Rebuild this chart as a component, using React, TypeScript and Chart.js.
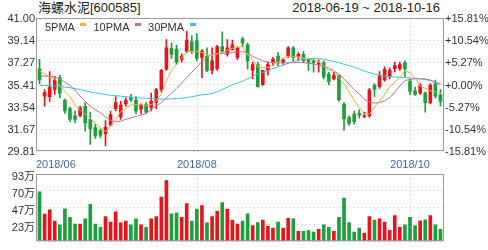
import React, { useEffect, useRef } from 'react';
import { Chart, registerables } from 'chart.js';

Chart.register(...registerables);

const title = '海螺水泥[600585]';
const dateRange = '2018-06-19 ~ 2018-10-16';

const dates = [
  '2018-06-19','2018-06-20','2018-06-21','2018-06-22','2018-06-25','2018-06-26','2018-06-27','2018-06-28','2018-06-29',
  '2018-07-02','2018-07-03','2018-07-04','2018-07-05','2018-07-06','2018-07-09','2018-07-10','2018-07-11','2018-07-12','2018-07-13',
  '2018-07-16','2018-07-17','2018-07-18','2018-07-19','2018-07-20','2018-07-23','2018-07-24','2018-07-25','2018-07-26','2018-07-27',
  '2018-07-30','2018-07-31',
  '2018-08-01','2018-08-02','2018-08-03','2018-08-06','2018-08-07','2018-08-08','2018-08-09','2018-08-10','2018-08-13','2018-08-14',
  '2018-08-15','2018-08-16','2018-08-17','2018-08-20','2018-08-21','2018-08-22','2018-08-23','2018-08-24','2018-08-27','2018-08-28',
  '2018-08-29','2018-08-30','2018-08-31',
  '2018-09-03','2018-09-04','2018-09-05','2018-09-06','2018-09-07','2018-09-10','2018-09-11','2018-09-12','2018-09-13','2018-09-14',
  '2018-09-17','2018-09-18','2018-09-19','2018-09-20','2018-09-21','2018-09-25','2018-09-26','2018-09-27','2018-09-28',
  '2018-10-08','2018-10-09','2018-10-10','2018-10-11','2018-10-12','2018-10-15','2018-10-16'
];

const opens = [
  36.73,34.45,34.4,35.0,36.0,34.1,33.4,32.8,32.8,33.6,
  32.5,31.8,31.55,31.3,32.0,33.4,32.7,33.8,34.35,34.1,
  33.35,33.75,33.5,33.9,35.0,36.7,38.45,38.4,37.5,38.2,
  39.0,39.1,37.7,37.8,36.6,36.75,38.6,37.95,38.35,37.7,
  39.25,38.75,36.6,37.1,35.4,36.6,37.27,37.8,37.3,37.8,
  38.5,37.8,37.95,37.55,37.4,37.1,37.25,36.3,35.9,36.2,
  33.75,32.65,32.95,33.0,32.7,32.8,35.35,35.25,35.8,36.1,
  36.75,36.75,37.25,35.7,34.9,34.7,34.7,33.9,35.5,34.55
];
const closes = [
  35.8,34.75,35.2,35.8,34.7,33.2,32.5,32.5,33.45,32.2,
  31.7,31.1,31.15,31.85,32.9,33.9,33.7,34.1,34.15,33.2,
  33.7,33.1,34.0,35.0,36.6,38.5,37.95,37.3,37.8,39.15,
  38.2,37.6,38.2,36.6,37.4,38.6,38.2,38.5,38.75,38.5,
  38.9,37.4,37.1,35.25,36.6,37.1,37.54,37.3,37.5,38.5,
  37.7,37.95,37.4,37.3,37.25,37.25,36.05,35.65,36.2,34.15,
  32.55,32.15,32.3,32.85,32.8,34.95,35.0,36.15,36.7,36.6,
  37.0,37.1,36.75,34.85,34.6,35.35,33.9,35.35,34.45,34.0
];
const highs = [
  37.54,35.0,36.5,36.1,36.2,34.2,33.5,33.2,33.6,33.9,
  33.1,32.1,31.7,32.4,33.2,34.4,34.0,34.3,34.6,34.4,
  33.8,33.9,34.7,35.1,36.7,39.2,38.9,38.7,38.0,39.9,
  39.5,39.7,38.35,38.5,38.5,38.7,39.85,39.2,39.15,38.6,
  39.4,38.9,37.3,37.3,36.6,37.3,37.7,38.1,37.6,38.6,
  38.6,38.1,38.2,37.6,37.55,37.5,37.4,36.45,36.45,36.2,
  33.9,32.8,33.2,33.3,33.1,35.1,35.5,36.5,36.9,36.8,
  37.3,37.3,37.4,35.9,35.2,35.5,34.8,35.5,35.8,35.0
];
const lows = [
  35.5,33.6,34.0,34.6,34.3,33.0,32.3,32.2,32.7,31.5,
  30.4,30.9,30.95,30.3,31.95,33.2,32.5,33.6,34.0,32.95,
  32.95,32.95,33.2,33.4,34.8,36.6,37.6,37.1,37.3,38.1,
  38.0,37.4,36.0,36.5,36.3,36.6,38.1,37.8,38.3,37.5,
  38.6,36.7,35.9,35.2,35.35,36.2,37.0,37.0,37.1,37.7,
  37.4,37.4,37.25,36.6,36.45,36.45,35.9,35.4,35.8,34.0,
  31.6,32.0,32.1,32.6,32.65,32.65,34.4,35.1,35.7,35.9,
  36.5,36.6,36.05,34.6,34.5,34.6,33.1,33.8,34.3,33.6
];
const volumes = [
  68.4,37.8,43.7,28,22.9,45,33.1,23.8,23.8,31,
  51,23.8,19.5,34.4,26.8,40.8,25.5,28,22.9,31,
  22.9,19.5,31,34.4,61.2,84,38.2,39.5,33.1,52.2,
  28,44.6,49.3,25.5,34.4,41.6,53.5,44.6,29.3,23.8,
  28,38.2,21.7,25.9,29.3,20.8,18.3,26.8,18.3,32,
  31,14,14,14.8,12.7,16.6,22.9,19.5,14,33.1,
  59.9,25.9,12.7,18.3,11.5,34.4,29.3,31,26.8,15.3,
  35.7,19.5,22.9,33.1,21.7,28.4,29.7,35.7,22.9,16.6
];
const ma5 = [
  36.55,36.3,36.05,35.9,35.3,34.85,34.4,33.7,33.3,32.95,
  32.6,32.15,31.8,31.45,31.95,32.5,33.15,33.4,33.7,33.75,
  33.7,33.7,33.72,34.0,34.6,35.75,36.6,37.1,37.65,38.15,
  38.2,38.2,38.1,37.9,37.85,38.0,38.1,38.3,38.45,38.55,
  38.6,37.9,37.5,36.9,36.83,36.83,37.05,37.3,37.6,37.8,
  37.75,37.7,37.64,37.55,37.5,37.3,37.0,36.6,36.56,36.0,
  35.45,34.8,34.1,33.5,32.91,32.95,33.5,34.0,34.6,35.2,
  35.6,36.0,36.6,36.4,36.0,35.3,35.1,34.9,34.8,34.67
];
const ma10 = [
  36.15,36.12,36.1,36.07,35.88,35.62,35.34,34.95,34.45,34.0,
  33.6,33.3,33.05,32.7,32.4,32.3,32.35,32.5,32.62,32.75,
  32.85,33.0,33.3,33.6,33.9,34.3,34.7,35.1,35.55,36.0,
  36.45,36.9,37.35,37.75,37.9,37.98,38.02,38.05,38.1,38.15,
  38.18,38.05,37.78,37.6,37.4,37.32,37.26,37.24,37.24,37.25,
  37.27,37.27,37.25,37.2,37.15,37.05,36.95,36.8,36.55,36.3,
  35.9,35.45,35.0,34.6,34.2,33.95,33.86,33.9,34.05,34.3,
  34.8,35.3,35.75,35.85,35.9,35.9,35.88,35.8,35.62,35.48
];
const ma30 = [
  35.35,35.35,35.33,35.3,35.25,35.2,35.15,35.08,35.0,34.9,
  34.8,34.72,34.65,34.58,34.52,34.48,34.44,34.4,34.35,34.32,
  34.29,34.26,34.23,34.2,34.19,34.2,34.22,34.25,34.28,34.33,
  34.4,34.48,34.56,34.6,34.66,34.8,35.0,35.2,35.4,35.55,
  35.7,35.9,36.1,36.3,36.45,36.6,36.75,36.9,37.05,37.2,
  37.35,37.45,37.55,37.6,37.62,37.6,37.55,37.45,37.35,37.25,
  37.12,37.0,36.88,36.72,36.55,36.42,36.3,36.2,36.12,36.08,
  36.05,36.03,36.0,35.97,35.94,35.9,35.84,35.74,35.6,35.42
];

const priceTicks = [29.81, 31.67, 33.54, 35.41, 37.27, 39.14, 41.0];
const pctTickLabels = ['-15.81%', '-10.54%', '-5.27%', '+0.00%', '+5.27%', '+10.54%', '+15.81%'];
const volTickValues = [23.25, 46.5, 69.75, 93];
const volTickLabels = ['23万', '47万', '70万', '93万'];
const monthLabels = ['2018/06', '2018/08', '2018/10'];
const maNames = ['5PMA', '10PMA', '30PMA'];

const UP = '#e8141b';
const DOWN = '#1f9e3d';
const MA_COLORS = ['#e8b440', '#c0709c', '#38c4d8'];
const FONT = "'Liberation Sans', Arial, 'Noto Sans CJK SC', sans-serif";
const FRAME = '#9a9a9a';
const GRID = '#e4e4e4';

const candleColors = opens.map((o, i) => (closes[i] >= o ? UP : DOWN));
const monthIdx = monthLabels.map((m) => dates.findIndex((d) => d.startsWith(m.replace('/', '-'))));

function drawFrame(ctx: CanvasRenderingContext2D, a: any) {
  ctx.save();
  ctx.strokeStyle = FRAME;
  ctx.lineWidth = 1;
  ctx.setLineDash([]);
  const x1 = Math.round(a.left) - 0.5;
  const y1 = Math.round(a.top) + 0.5;
  const x2 = Math.round(a.right) + 0.5;
  const y2 = Math.round(a.bottom) - 0.5;
  ctx.strokeRect(x1, y1, x2 - x1, y2 - y1);
  ctx.restore();
}

function drawMonthGrid(chart: any) {
  const { ctx, chartArea: a, scales } = chart;
  ctx.save();
  ctx.strokeStyle = GRID;
  ctx.lineWidth = 1;
  ctx.setLineDash([2, 2]);
  monthIdx.forEach((idx, k) => {
    if (k === 0) return;
    const x = Math.round(scales.x.getPixelForValue(idx)) + 0.5;
    ctx.beginPath();
    ctx.moveTo(x, a.top);
    ctx.lineTo(x, a.bottom);
    ctx.stroke();
  });
  ctx.restore();
}

const pricePlugin = {
  id: 'priceDecor',
  beforeDatasetsDraw(chart: any) {
    drawMonthGrid(chart);
  },
  afterDraw(chart: any) {
    const { ctx, chartArea: a } = chart;
    drawFrame(ctx, a);
    ctx.save();
    ctx.font = `11px ${FONT}`;
    ctx.textBaseline = 'middle';
    ctx.textAlign = 'left';
    let x = a.left + 8;
    const y = a.top + 10;
    maNames.forEach((name, k) => {
      ctx.fillStyle = '#333';
      ctx.fillText(name, x, y);
      x += ctx.measureText(name).width + 5.5;
      ctx.fillStyle = MA_COLORS[k];
      ctx.fillRect(Math.round(x), y - 5, 6, 3);
      x += 6 + 7;
    });
    ctx.restore();
  },
};

const volPlugin = {
  id: 'volDecor',
  beforeDatasetsDraw(chart: any) {
    drawMonthGrid(chart);
  },
  afterDraw(chart: any) {
    const { ctx, chartArea: a, scales } = chart;
    drawFrame(ctx, a);
    ctx.save();
    ctx.font = `11px ${FONT}`;
    ctx.fillStyle = '#4a6a9a';
    ctx.textBaseline = 'middle';
    ctx.textAlign = 'left';
    monthIdx.forEach((idx, k) => {
      const w = ctx.measureText(monthLabels[k]).width;
      let x = scales.x.getPixelForValue(idx) - w / 2;
      x = Math.max(x, a.left - 1);
      x = Math.min(x, a.right - w);
      ctx.fillText(monthLabels[k], x, a.top - 9);
    });
    ctx.restore();
  },
};

const tickFont = { size: 11, family: FONT };

export default function App() {
  const priceRef = useRef<HTMLCanvasElement>(null);
  const volRef = useRef<HTMLCanvasElement>(null);

  useEffect(() => {
    const priceChart = new Chart(priceRef.current as HTMLCanvasElement, {
      type: 'bar',
      data: {
        labels: dates,
        datasets: [
          {
            type: 'line',
            label: maNames[0],
            data: ma5,
            borderColor: MA_COLORS[0],
            borderWidth: 1,
            pointRadius: 0,
            order: 0,
            yAxisID: 'y',
          } as any,
          {
            type: 'line',
            label: maNames[1],
            data: ma10,
            borderColor: MA_COLORS[1],
            borderWidth: 1,
            pointRadius: 0,
            order: 0,
            yAxisID: 'y',
          } as any,
          {
            type: 'line',
            label: maNames[2],
            data: ma30,
            borderColor: MA_COLORS[2],
            borderWidth: 1,
            pointRadius: 0,
            order: 0,
            yAxisID: 'y',
          } as any,
          {
            type: 'bar',
            label: 'body',
            data: opens.map((o, i) => [o, closes[i]]),
            backgroundColor: candleColors,
            barThickness: 3,
            grouped: false,
            order: 1,
            yAxisID: 'y',
          } as any,
          {
            type: 'bar',
            label: 'wick',
            data: lows.map((l, i) => [l, highs[i]]),
            backgroundColor: candleColors,
            barThickness: 1,
            grouped: false,
            order: 2,
            yAxisID: 'y',
          } as any,
        ],
      },
      options: {
        responsive: false,
        animation: false,
        devicePixelRatio: 1,
        events: [],
        layout: { padding: { top: 18, bottom: 3, left: 0, right: 0 } },
        plugins: { legend: { display: false }, tooltip: { enabled: false } },
        scales: {
          x: { display: false, offset: true },
          y: {
            position: 'left',
            min: priceTicks[0],
            max: priceTicks[priceTicks.length - 1],
            afterBuildTicks: (axis: any) => {
              axis.ticks = priceTicks.map((v) => ({ value: v }));
            },
            afterFit: (axis: any) => {
              axis.width = 37;
            },
            ticks: {
              font: tickFont,
              color: '#333',
              padding: 2,
              labelOffset: 1,
              autoSkip: false,
              callback: (v: any) => Number(v).toFixed(2),
            },
            grid: { color: GRID, drawTicks: false },
            border: { display: false, dash: [2, 2] },
          },
          y2: {
            position: 'right',
            min: priceTicks[0],
            max: priceTicks[priceTicks.length - 1],
            afterBuildTicks: (axis: any) => {
              axis.ticks = priceTicks.map((v) => ({ value: v }));
            },
            afterFit: (axis: any) => {
              axis.width = 45;
            },
            ticks: {
              font: tickFont,
              color: '#333',
              padding: 2,
              labelOffset: 1,
              autoSkip: false,
              callback: (_v: any, i: number) => pctTickLabels[i],
            },
            grid: { display: false, drawTicks: false },
            border: { display: false },
          },
        },
      } as any,
      plugins: [pricePlugin],
    });

    const volChart = new Chart(volRef.current as HTMLCanvasElement, {
      type: 'bar',
      data: {
        labels: dates,
        datasets: [
          {
            label: 'volume',
            data: volumes,
            backgroundColor: candleColors,
            barThickness: 3,
          },
        ],
      },
      options: {
        responsive: false,
        animation: false,
        devicePixelRatio: 1,
        events: [],
        layout: { padding: { top: 18, bottom: 3, left: 0, right: 45 } },
        plugins: { legend: { display: false }, tooltip: { enabled: false } },
        scales: {
          x: { display: false, offset: true },
          y: {
            position: 'left',
            min: 0,
            max: volTickValues[volTickValues.length - 1],
            afterBuildTicks: (axis: any) => {
              axis.ticks = volTickValues.map((v) => ({ value: v }));
            },
            afterFit: (axis: any) => {
              axis.width = 37;
            },
            ticks: {
              font: tickFont,
              color: '#333',
              padding: 2,
              labelOffset: 3,
              autoSkip: false,
              callback: (_v: any, i: number) => volTickLabels[i],
            },
            grid: { color: GRID, drawTicks: false },
            border: { display: false, dash: [2, 2] },
          },
        },
      } as any,
      plugins: [volPlugin],
    });

    return () => {
      priceChart.destroy();
      volChart.destroy();
    };
  }, []);

  return (
    <div
      style={{
        position: 'fixed',
        left: 0,
        top: 0,
        width: 488,
        height: 250,
        background: '#fff',
        overflow: 'hidden',
        fontFamily: FONT,
      }}
    >
      <div
        style={{
          position: 'absolute',
          left: 38,
          top: 0,
          fontSize: 13,
          lineHeight: '15px',
          color: '#222',
          whiteSpace: 'nowrap',
        }}
      >
        {title}
      </div>
      <div
        style={{
          position: 'absolute',
          right: 48,
          top: 0,
          fontSize: 13,
          lineHeight: '15px',
          color: '#222',
          whiteSpace: 'nowrap',
        }}
      >
        {dateRange}
      </div>
      <canvas
        ref={priceRef}
        width={488}
        height={160}
        style={{ position: 'absolute', left: 0, top: 0, width: 488, height: 160 }}
      />
      <canvas
        ref={volRef}
        width={488}
        height={94}
        style={{ position: 'absolute', left: 0, top: 156, width: 488, height: 94 }}
      />
    </div>
  );
}
